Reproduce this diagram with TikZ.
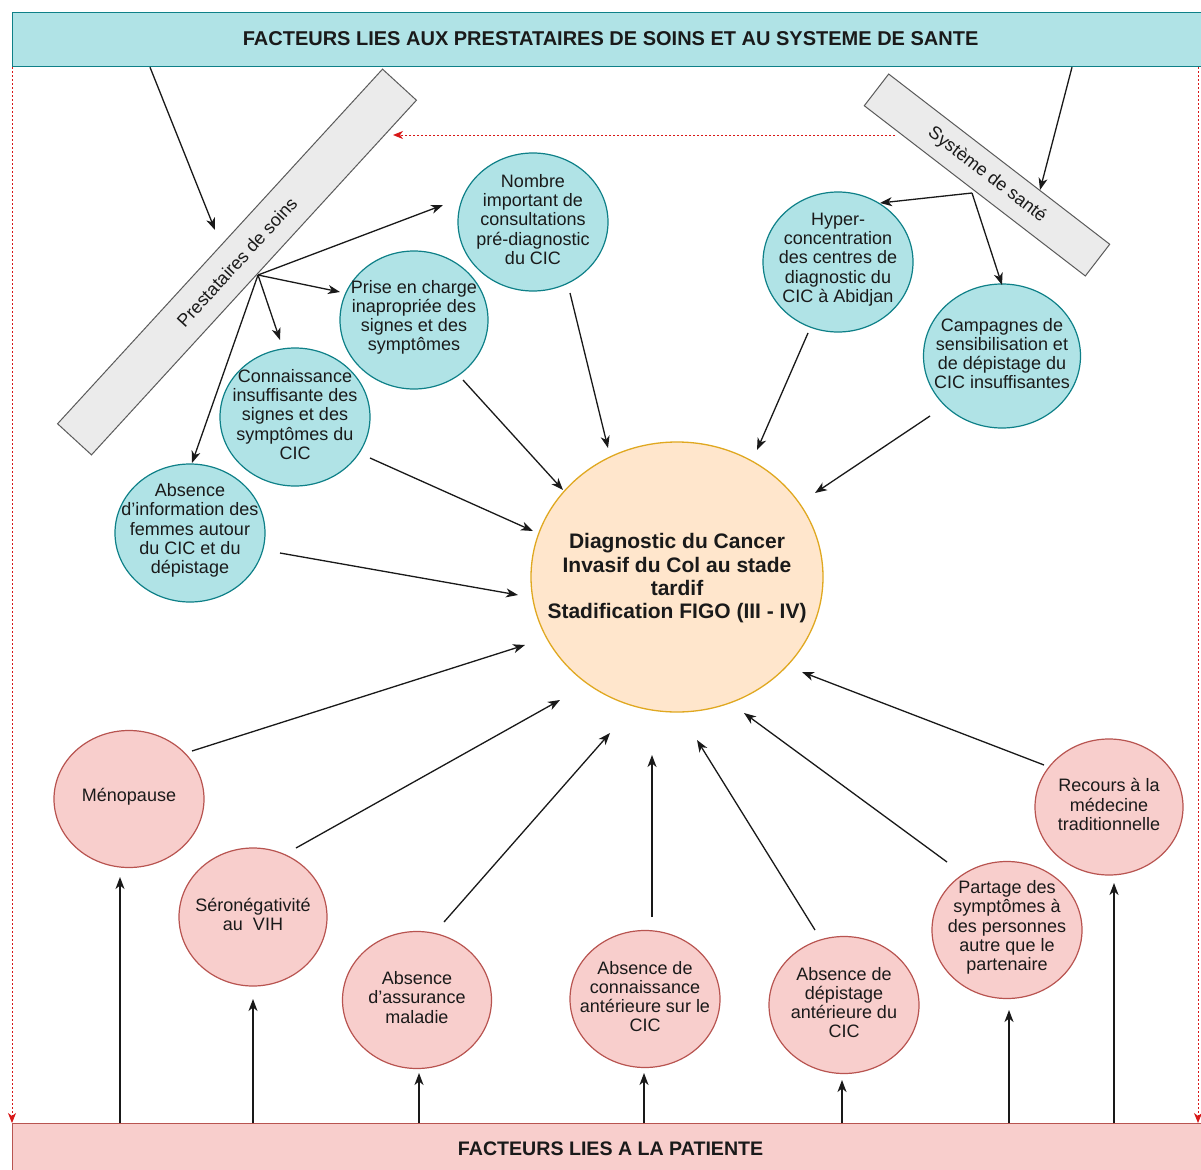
\documentclass[tikz,border=0pt]{standalone}
\usepackage{fontspec}
\setmainfont{Liberation Sans}
\usetikzlibrary{shapes.geometric,arrows.meta,calc}
\definecolor{tealf}{HTML}{B0E3E6}
\definecolor{tealb}{HTML}{0E8088}
\definecolor{pinkf}{HTML}{F8CECC}
\definecolor{pinkb}{HTML}{B85450}
\definecolor{orgf}{HTML}{FFE6CC}
\definecolor{orgb}{HTML}{E0A820}
\definecolor{grayf}{HTML}{EBEBEB}
\definecolor{grayb}{HTML}{5A5A5A}
\definecolor{redd}{HTML}{D81818}
\definecolor{txt}{HTML}{1A1A1A}
\begin{document}
\begin{tikzpicture}[x=1pt,y=-1pt,
  circtxt/.style={align=center, font=\fontsize{18}{19.2}\selectfont, text=txt, inner sep=0pt, yshift=2.5pt},
  tealc/.style={ellipse, draw=tealb, fill=tealf, line width=1.2pt, minimum width=150pt, minimum height=138pt, inner sep=0pt},
  pinkc/.style={ellipse, draw=pinkb, fill=pinkf, line width=1.2pt, minimum width=150pt, minimum height=137pt, inner sep=0pt},
  gbar/.style={rectangle, draw=grayb, fill=grayf, line width=1pt, inner sep=0pt, font=\fontsize{18}{20}\selectfont, text=txt},
  hbar/.style={rectangle, draw=tealb, fill=tealf, line width=1.2pt, inner sep=0pt, font=\fontsize{20}{24}\selectfont\bfseries, text=txt},
  pbar/.style={rectangle, draw=pinkb, fill=pinkf, line width=1.2pt, inner sep=0pt, font=\fontsize{19.6}{24}\selectfont\bfseries, text=txt},
  arr/.style={draw=black!90, line width=1.3pt, -{Stealth[length=12pt,width=9pt,inset=3.5pt]}},
  reddot/.style={draw=redd, line width=0.9pt, dash pattern=on 2pt off 2pt, -{Stealth[length=10pt,width=8pt,inset=3pt]}},
]
\useasboundingbox (0,0) rectangle (1201,1169);
\clip (0,0) rectangle (1201,1169);
\fill[white] (0,0) rectangle (1201,1169);

% bars
\node[hbar, anchor=north west, minimum width=1196pt, minimum height=54pt] (header) at (12,12) {\raisebox{2pt}{FACTEURS LIES AUX PRESTATAIRES DE SOINS ET AU SYSTEME DE SANTE}};
\node[pbar, anchor=north west, minimum width=1196pt, minimum height=52pt] (patient) at (12,1123) {\raisebox{1.5pt}{FACTEURS LIES A LA PATIENTE}};

\node[gbar, minimum width=481pt, minimum height=46pt, rotate=47.5] (prest) at (237,262) {Prestataires de soins};
\node[gbar, minimum width=279pt, minimum height=40pt, rotate=-37.6] (sysb) at (987,175) {Système de santé};

% teal circles
\node[tealc, label={[circtxt]center:Nombre\\important de\\consultations\\pré-diagnostic\\du CIC}] (nombre) at (533,222) {};
\node[tealc, minimum width=148pt, label={[circtxt]center:Prise en charge\\inapropriée des\\signes et des\\symptômes}] (prise) at (414,320) {};
\node[tealc, label={[circtxt]center:Connaissance\\insuffisante des\\signes et des\\symptômes du\\CIC}] (conn) at (295,417) {};
\node[tealc, label={[circtxt]center:Absence\\d'information des\\femmes autour\\du CIC et du\\dépistage}] (absinfo) at (190,533) {};
\node[tealc, minimum height=140pt, label={[circtxt]center:Hyper-\\concentration\\des centres de\\diagnostic du\\CIC à Abidjan}] (hyper) at (838,262) {};
\node[tealc, minimum width=157pt, minimum height=144pt, label={[circtxt]center:Campagnes de\\sensibilisation et\\de dépistage du\\CIC insuffisantes}] (camp) at (1002,356) {};

% center
\node[ellipse, draw=orgb, fill=orgf, line width=1.3pt, minimum width=292pt, minimum height=270pt, inner sep=0pt,
  label={[align=center, font=\fontsize{21}{23.3}\selectfont\bfseries, text=txt, inner sep=0pt, yshift=-1.5pt]center:Diagnostic du Cancer\\Invasif du Col au stade\\tardif\\Stadification FIGO (III - IV)}] (diag) at (677,577) {};

% pink circles
\node[pinkc, label={[circtxt]center:Ménopause}] (meno) at (129,799) {};
\node[pinkc, minimum width=148pt, minimum height=138pt, label={[circtxt]center:Séronégativité\\au\ \ VIH}] (sero) at (253,917) {};
\node[pinkc, minimum width=149pt, label={[circtxt]center:Absence\\d'assurance\\maladie}] (assur) at (417,1000) {};
\node[pinkc, label={[circtxt]center:Absence de\\connaissance\\antérieure sur le\\CIC}] (connant) at (645,999) {};
\node[pinkc, label={[circtxt]center:Absence de\\dépistage\\antérieure du\\CIC}] (depist) at (844,1005) {};
\node[pinkc, label={[circtxt]center:Partage des\\symptômes à\\des personnes\\autre que le\\partenaire}] (partage) at (1007,930) {};
\node[pinkc, minimum width=148pt, minimum height=136pt, label={[circtxt]center:Recours à la\\médecine\\traditionnelle}] (recours) at (1109,807) {};

% header arrows
\draw[arr] ($(header.south west)+(138,0)$) -- ($(prest)+(-22,-32)$);
\draw[arr] ($(header.south west)+(1060,0)$) -- ($(sysb)+(53,15)$);

% red dotted connectors
\draw[reddot] ($(sysb)+(-92,-40)$) -- ($(prest)+(156,-127)$);
\draw[reddot] (header.south west) -- (patient.north west);
\draw[reddot] ($(header.south west)+(1186,0)$) -- ($(patient.north west)+(1186,0)$);

% prestataires fan
\draw[arr] ($(prest)+(21,13)$) -- ($(nombre)+(-90,-17)$);
\draw[arr] ($(prest)+(21,13)$) -- ($(prise)+(-74,-28)$);
\draw[arr] ($(prest)+(21,13)$) -- ($(conn)+(-15,-77)$);
\draw[arr] ($(prest)+(21,13)$) -- ($(absinfo)+(2,-70)$);

% systeme fan
\draw[arr] ($(sysb)+(-15,18)$) -- ($(hyper)+(42,-59)$);
\draw[arr] ($(sysb)+(-15,18)$) -- ($(camp)+(0,-71)$);

% into diagnostic
\draw[arr] ($(nombre)+(37,71)$) -- ($(diag)+(-69,-129)$);
\draw[arr] ($(prise)+(49,60)$) -- ($(diag)+(-114,-87)$);
\draw[arr] ($(conn)+(75,41)$) -- ($(diag)+(-144,-46)$);
\draw[arr] ($(absinfo)+(90,20)$) -- ($(diag)+(-159,18)$);
\draw[arr] ($(hyper)+(-30,71)$) -- ($(diag)+(80,-127)$);
\draw[arr] ($(camp)+(-72,60)$) -- ($(diag)+(138,-84)$);
\draw[arr] ($(meno)+(63,-48)$) -- ($(diag)+(-152,68)$);
\draw[arr] ($(sero)+(43,-69)$) -- ($(diag)+(-117,123)$);
\draw[arr] ($(assur)+(27,-78)$) -- ($(diag)+(-67,156)$);
\draw[arr] ($(connant)+(7,-82)$) -- ($(diag)+(-25,178)$);
\draw[arr] ($(depist)+(-29,-75)$) -- ($(diag)+(20,163)$);
\draw[arr] ($(partage)+(-60,-68)$) -- ($(diag)+(67,136)$);
\draw[arr] ($(recours)+(-65,-42)$) -- ($(diag)+(125,95)$);

% from patient bar
\draw[arr] ($(patient.north west)+(108,0)$) -- ($(meno)+(-9,78)$);
\draw[arr] ($(patient.north west)+(241,0)$) -- ($(sero)+(0,82)$);
\draw[arr] ($(patient.north west)+(407,0)$) -- ($(assur)+(2,73)$);
\draw[arr] ($(patient.north west)+(632,0)$) -- ($(connant)+(-1,74)$);
\draw[arr] ($(patient.north west)+(830,0)$) -- ($(depist)+(-2,75)$);
\draw[arr] ($(patient.north west)+(997,0)$) -- ($(partage)+(2,80)$);
\draw[arr] ($(patient.north west)+(1102,0)$) -- ($(recours)+(5,76)$);
\end{tikzpicture}
\end{document}
